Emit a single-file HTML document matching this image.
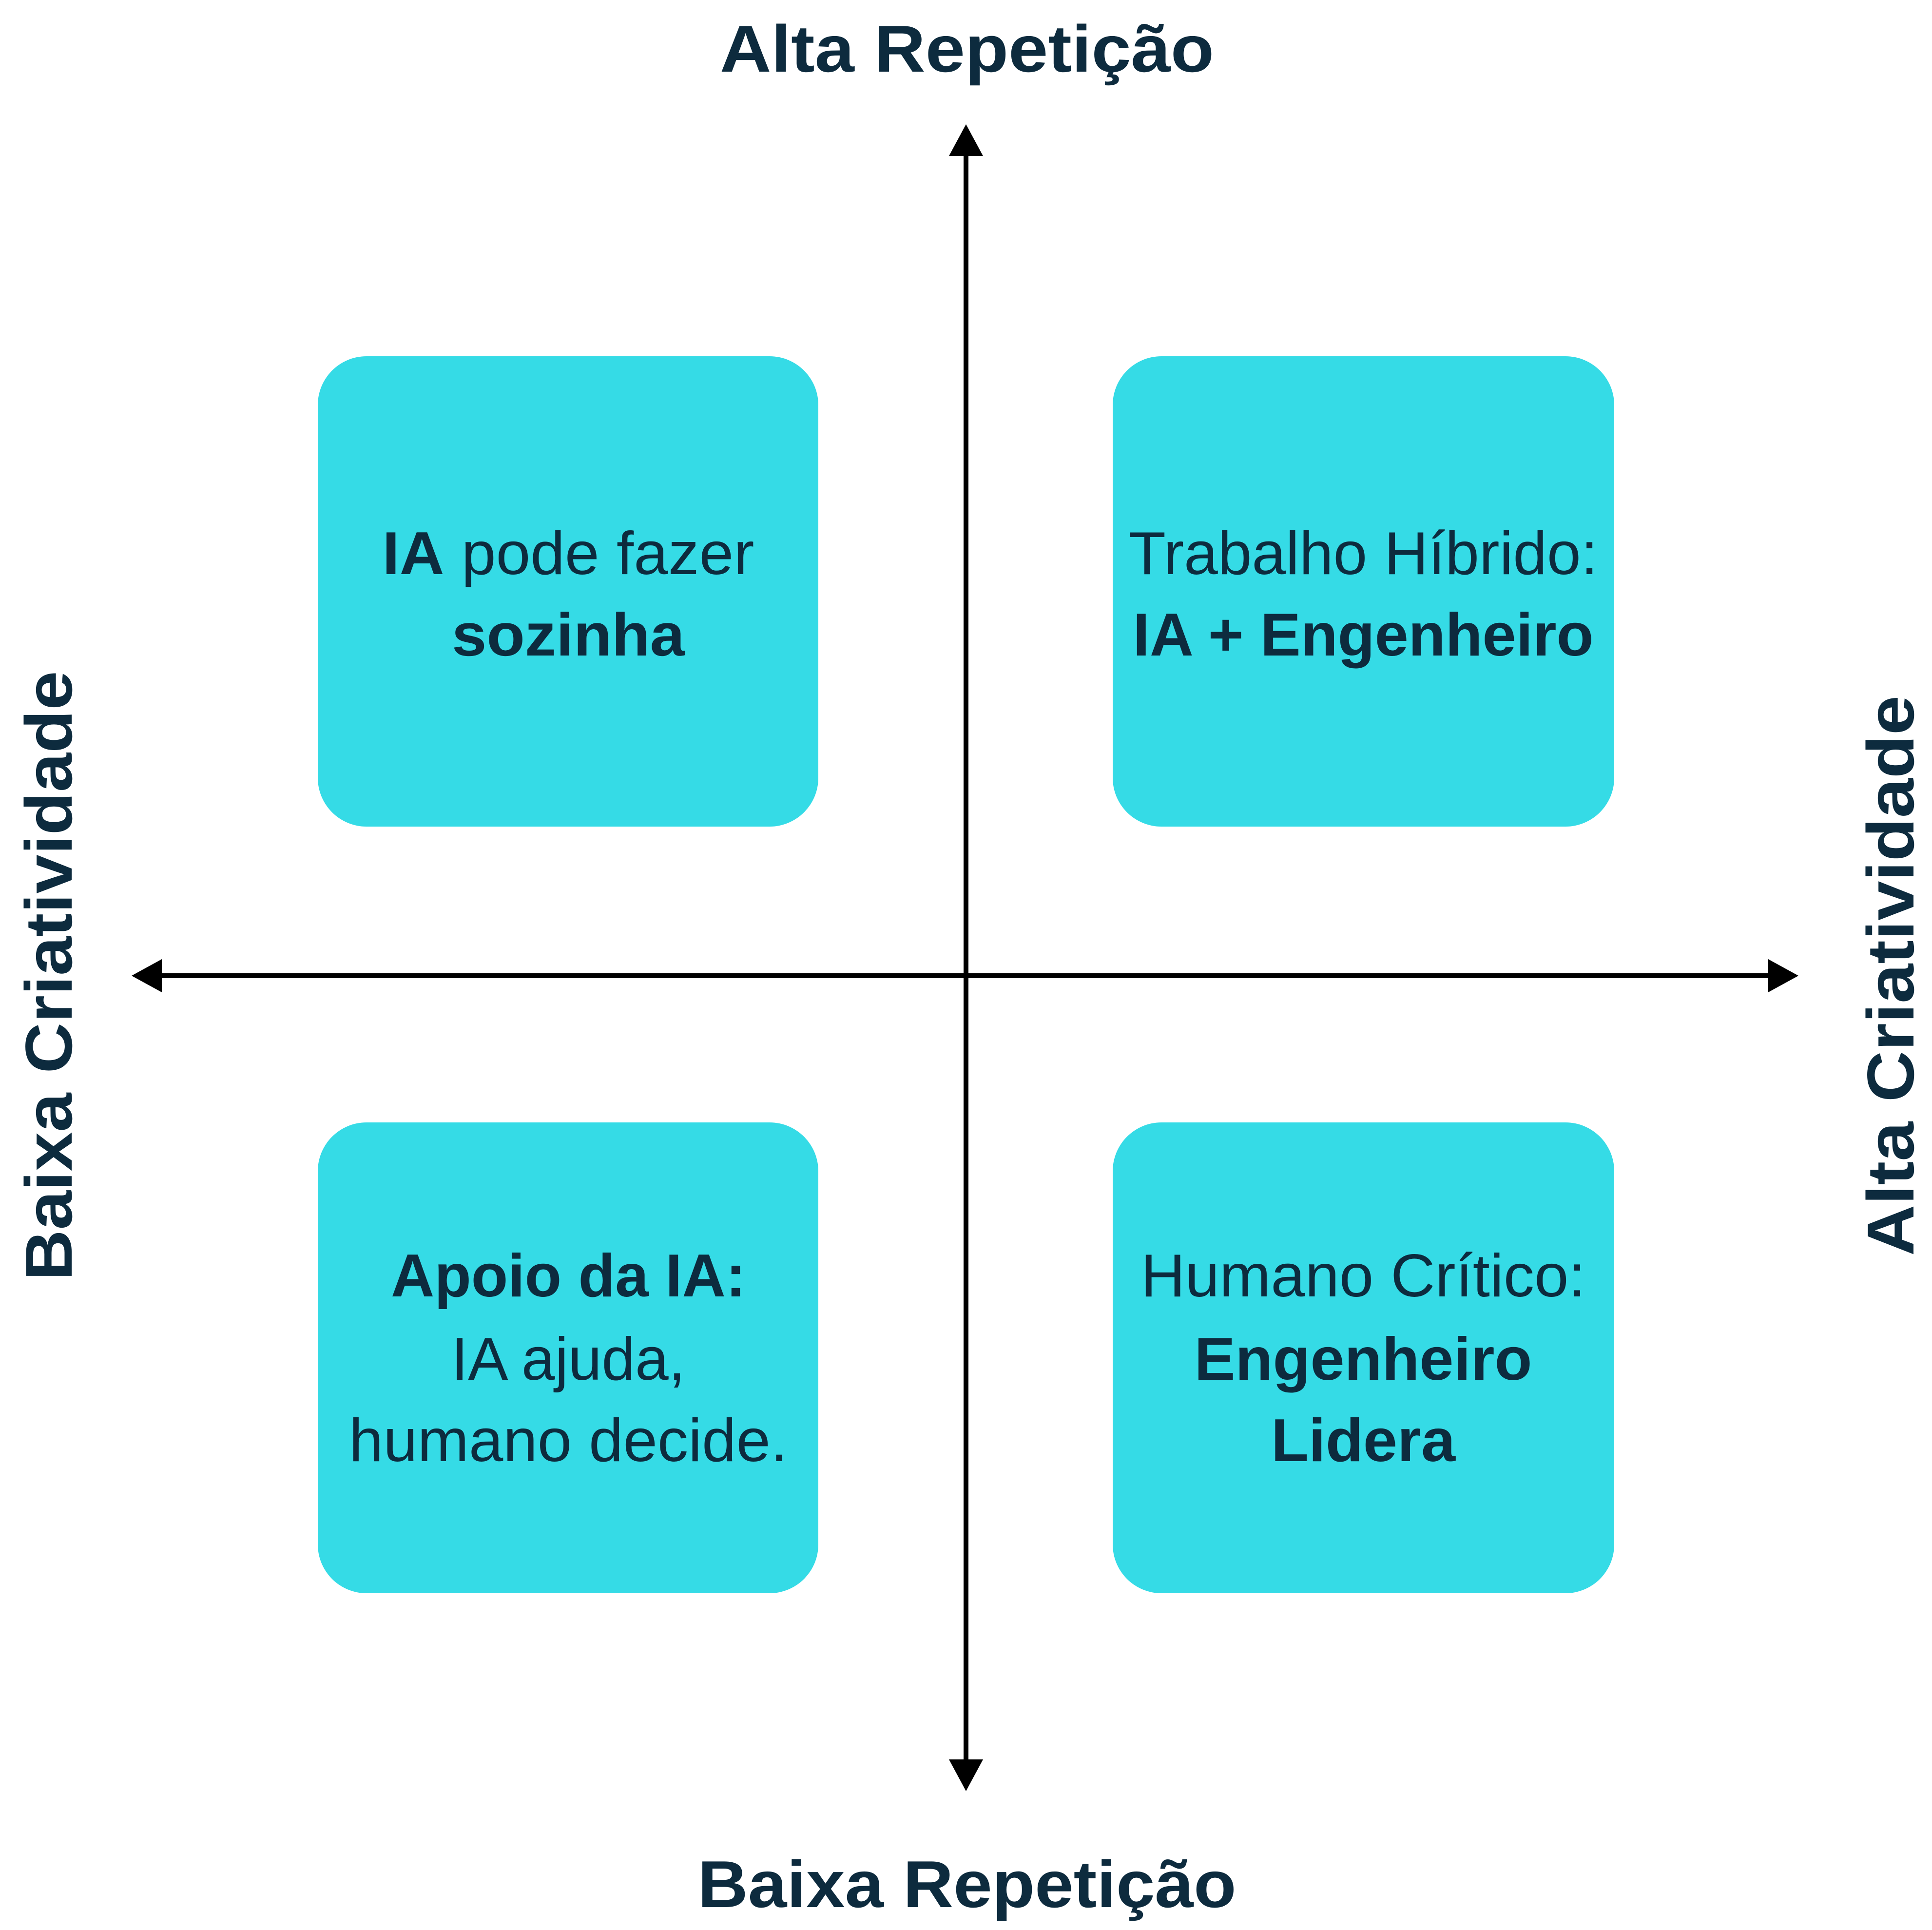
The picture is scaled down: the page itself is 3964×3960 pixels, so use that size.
<!DOCTYPE html>
<html><head><meta charset="utf-8"><style>html,body{margin:0;padding:0;background:#fff}svg{display:block}</style></head>
<body>
<svg width="3964" height="3960" viewBox="0 0 3964 3960" xmlns="http://www.w3.org/2000/svg" font-family="'Liberation Sans', sans-serif" fill="#0d2b3e">
<rect width="3964" height="3960" fill="#fff"/>
<g fill="#35dbe6">
<rect x="652" y="731" width="1027" height="965" rx="100"/>
<rect x="2283" y="731" width="1029" height="965" rx="100"/>
<rect x="652" y="2303" width="1027" height="966" rx="100"/>
<rect x="2283" y="2303" width="1029" height="966" rx="100"/>
</g>
<g stroke="#000" stroke-width="10">
<line x1="1982" y1="300" x2="1982" y2="3630"/>
<line x1="310" y1="2002" x2="3650" y2="2002"/>
</g>
<g fill="#000">
<polygon points="1982,255 1947,320 2017,320"/>
<polygon points="1982,3675 1947,3610 2017,3610"/>
<polygon points="270,2002 332,1968 332,2036"/>
<polygon points="3690,2002 3628,1968 3628,2036"/>
</g>
<g font-weight="bold" font-size="136" text-anchor="middle">
<text x="1984" y="147" textLength="1014" lengthAdjust="spacingAndGlyphs">Alta Repetição</text>
<text x="1984" y="3913" textLength="1105" lengthAdjust="spacingAndGlyphs">Baixa Repetição</text>
<text transform="translate(147,2002) rotate(-90)" textLength="1251" lengthAdjust="spacingAndGlyphs">Baixa Criatividade</text>
<text transform="translate(3926,2002) rotate(-90)" textLength="1150" lengthAdjust="spacingAndGlyphs">Alta Criatividade</text>
</g>
<g font-size="124" text-anchor="middle">
<text x="1166" y="1178" textLength="763" lengthAdjust="spacingAndGlyphs"><tspan font-weight="bold">IA</tspan> pode fazer</text>
<text x="1166" y="1345" font-weight="bold" textLength="478" lengthAdjust="spacingAndGlyphs">sozinha</text>
<text x="2797" y="1178" textLength="963" lengthAdjust="spacingAndGlyphs">Trabalho Híbrido:</text>
<text x="2797" y="1345" font-weight="bold" textLength="945" lengthAdjust="spacingAndGlyphs">IA + Engenheiro</text>
<text x="1166" y="2660" font-weight="bold" textLength="728" lengthAdjust="spacingAndGlyphs">Apoio da IA:</text>
<text x="1166" y="2831" textLength="480" lengthAdjust="spacingAndGlyphs">IA ajuda,</text>
<text x="1166" y="2998" textLength="900" lengthAdjust="spacingAndGlyphs">humano decide.</text>
<text x="2797" y="2660" textLength="913" lengthAdjust="spacingAndGlyphs">Humano Crítico:</text>
<text x="2797" y="2831" font-weight="bold" textLength="693" lengthAdjust="spacingAndGlyphs">Engenheiro</text>
<text x="2797" y="2998" font-weight="bold" textLength="378" lengthAdjust="spacingAndGlyphs">Lidera</text>
</g>
</svg>
</body></html>
